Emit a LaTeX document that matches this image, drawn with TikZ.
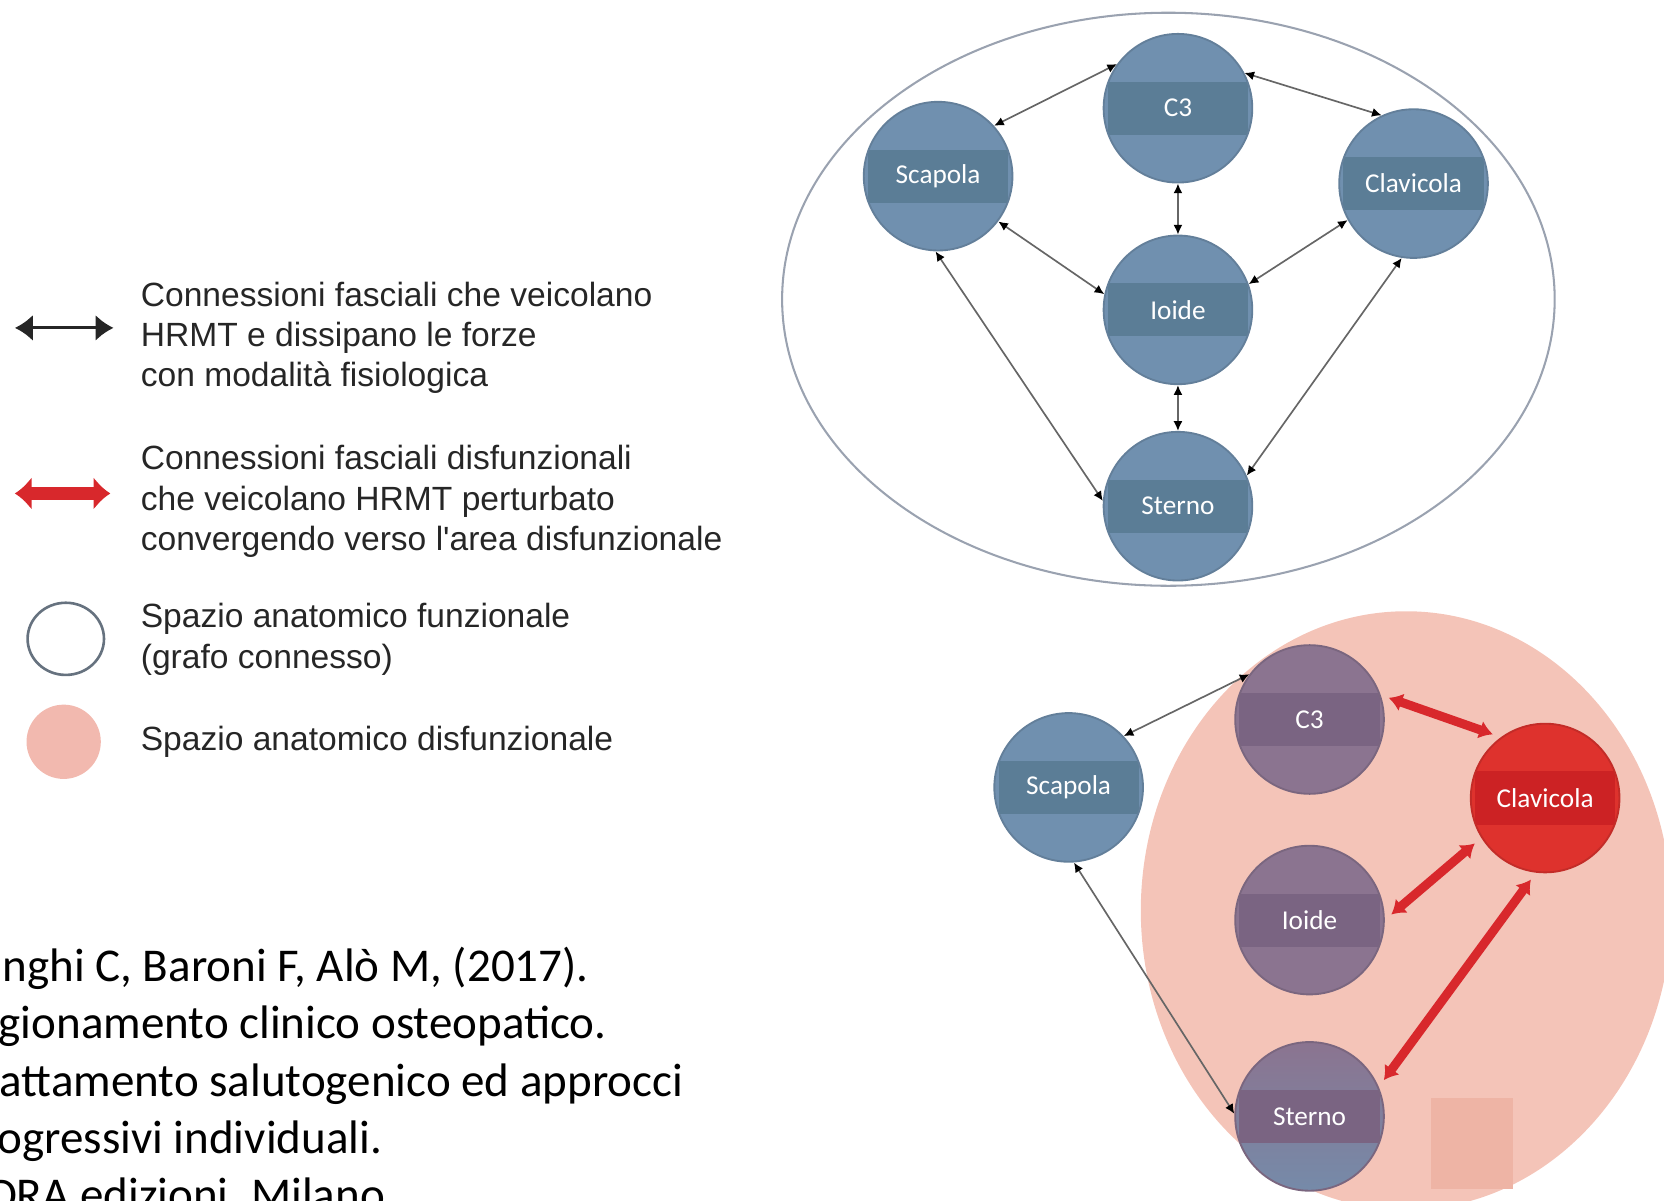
\documentclass[tikz,border=0pt]{standalone}
\usepackage{fontspec}
\usepackage{tikz}
\usepackage{xcolor}
\usetikzlibrary{arrows.meta}

\setmainfont{Carlito}
\newfontfamily\legendfont{Liberation Sans}

\definecolor{nodeblue}{HTML}{7090AF}
\definecolor{bandblue}{HTML}{5B7D96}
\definecolor{nodepurple}{HTML}{8B7490}
\definecolor{bandpurple}{HTML}{7A6482}
\definecolor{nodered}{HTML}{DE322D}
\definecolor{bandred}{HTML}{CC2224}
\definecolor{pinkarea}{HTML}{F4C4B8}
\definecolor{pinkbox}{HTML}{EEB4A5}
\definecolor{pinklegend}{HTML}{F2B9AF}
\definecolor{arrowred}{HTML}{D8282C}
\definecolor{rimgray}{HTML}{9AA2B0}
\definecolor{ringgray}{HTML}{66727F}

\begin{document}
\begin{tikzpicture}[x=0.01cm, y=-0.01cm,
  bonenode/.style 2 args={circle, minimum size=1.4cm, inner sep=0pt, fill=#1,
    draw=#1!88!black, line width=0.5pt, text=white, font=\fontsize{7.3}{8}\selectfont,
    path picture={\fill[#2] ([xshift=-0.66cm,yshift=-0.25cm]path picture bounding box.center)
      rectangle ([xshift=0.66cm,yshift=0.25cm]path picture bounding box.center);}},
  thinlink/.style={{Latex[length=2.6pt,width=2.4pt,color=black]}-{Latex[length=2.6pt,width=2.4pt,color=black]},
    draw=black!60, line width=0.45pt},
  redlink/.style={{Latex[length=3.6pt,width=5pt]}-{Latex[length=3.6pt,width=5pt]},
    draw=arrowred, line width=2.4pt, shorten <=0.08cm, shorten >=0.08cm},
  legendtext/.style={anchor=north west, inner sep=0pt, align=left, text=black!85,
    font=\legendfont\fontsize{9}{10.8}\selectfont}]

\useasboundingbox (0,0) rectangle (1568,1131);
\clip (0,0) rectangle (1568,1131);

% Legend
\coordinate (la) at (14,309);
\coordinate (lb) at (107,309);
\draw[{Latex[length=4.8pt,width=7pt]}-{Latex[length=4.8pt,width=7pt]}, line width=0.8pt, black!85] (la) -- (lb);
\node[legendtext] (leg1) at (132,265) {Connessioni fasciali che veicolano\\HRMT e dissipano le forze\\con modalità fisiologica};

\coordinate (lc) at (14,465);
\coordinate (ld) at (104,465);
\draw[{Latex[length=4.5pt,width=9pt]}-{Latex[length=4.5pt,width=9pt]}, line width=3.4pt, arrowred] (lc) -- (ld);
\node[legendtext] (leg2) at (132,419) {Connessioni fasciali disfunzionali\\che veicolano HRMT perturbato\\convergendo verso l'area disfunzionale};

\draw[ringgray, line width=0.7pt] (62,602) ellipse [x radius=36, y radius=34];
\node[legendtext] (leg3) at (132,568) {Spazio anatomico funzionale\\(grafo connesso)};

\fill[pinklegend] (60,699) circle [radius=35];
\node[legendtext] (leg4) at (132,684) {Spazio anatomico disfunzionale};

% Reference
\foreach \yy/\xx/\txt [count=\i] in {925/2/{nghi C, Baroni F, Alò M, (2017).},
    979/-2/{gionamento clinico osteopatico.}, 1033/-1/{attamento salutogenico ed approcci},
    1087/-3/{ogressivi individuali.}, 1141/-12/{DRA edizioni, Milano}} {
  \node[anchor=base west, inner sep=0pt, font=\fontsize{12.6}{15}\selectfont] (ref\i) at (\xx,\yy) {\txt};
}

% Functional graph
\draw[rimgray, line width=0.55pt] (1101,282) ellipse [x radius=364, y radius=270];
\node[bonenode={nodeblue}{bandblue}] (c3) at (1110,102) {C3};
\node[bonenode={nodeblue}{bandblue}] (scap) at (884,166) {Scapola};
\node[bonenode={nodeblue}{bandblue}] (clav) at (1332,173) {Clavicola};
\node[bonenode={nodeblue}{bandblue}] (ioide) at (1110,292) {Ioide};
\node[bonenode={nodeblue}{bandblue}] (sterno) at (1110,477) {Sterno};

\draw[thinlink] (c3.144) -- (scap.42);
\draw[thinlink] (c3.28) -- (clav.115);
\draw[thinlink] (c3.south) -- (ioide.north);
\draw[thinlink] (scap.323) -- (ioide.168);
\draw[thinlink] (clav.209) -- (ioide.20);
\draw[thinlink] (ioide.south) -- (sterno.north);
\draw[thinlink] (scap.268) -- (sterno.176);
\draw[thinlink] (clav.261) -- (sterno.24);

% Dysfunctional graph
\fill[pinkarea] (1325,858) ellipse [x radius=250, y radius=282];
\fill[pinkbox] (1348,1035) rectangle (1426,1120);
\node[bonenode={nodepurple}{bandpurple}] (bc3) at (1234,678) {C3};
\node[bonenode={nodeblue}{bandblue}] (bscap) at (1007,742) {Scapola};
\node[bonenode={nodered}{bandred}] (bclav) at (1456,752) {Clavicola};
\node[bonenode={nodepurple}{bandpurple}] (bioide) at (1234,867) {Ioide};
\node[bonenode={nodepurple}{bandpurple}, top color=nodepurple, bottom color=nodeblue!80!nodepurple] (bsterno) at (1234,1052) {Sterno};

\draw[thinlink] (bc3.143) -- (bscap.43);
\draw[thinlink] (bscap.274) -- (bsterno.178);
\draw[redlink] (bc3.19) -- (bclav.126);
\draw[redlink] (bclav.212) -- (bioide.0);
\draw[redlink] (bclav.263) -- (bsterno.23);
\end{tikzpicture}
\end{document}
